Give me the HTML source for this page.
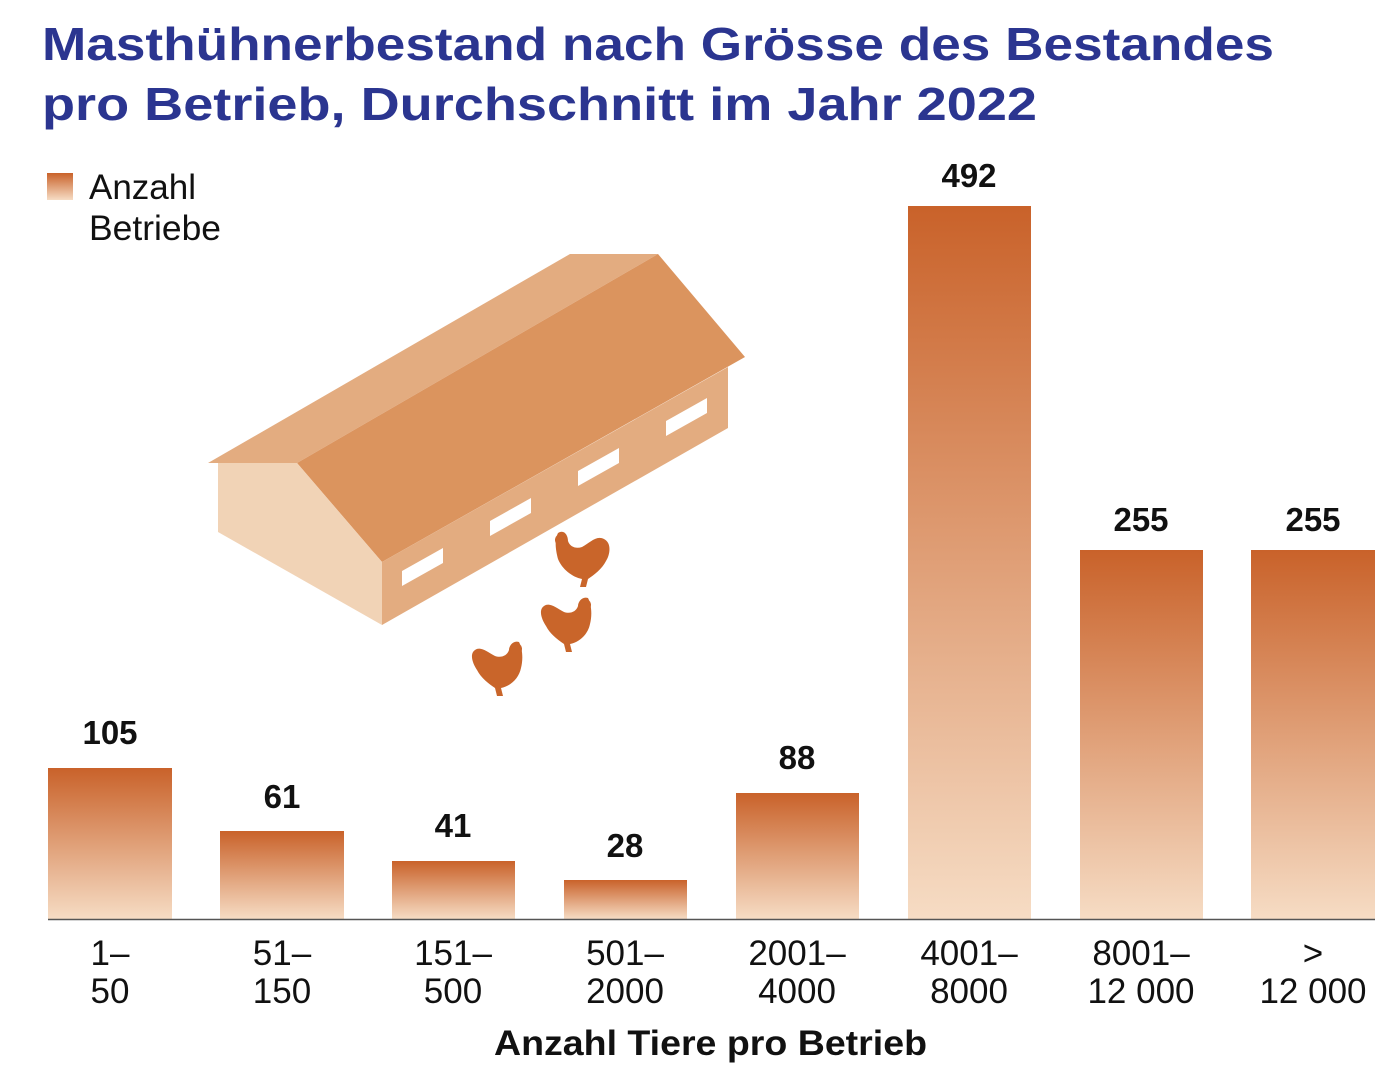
<!DOCTYPE html>
<html><head><meta charset="utf-8"><style>html,body{margin:0;padding:0;background:#fff}svg{display:block}</style></head>
<body>
<svg width="1400" height="1076" viewBox="0 0 1400 1076" xmlns="http://www.w3.org/2000/svg" font-family="Liberation Sans, DejaVu Sans, sans-serif">
<defs>
<linearGradient id="g" x1="0" y1="0" x2="0" y2="1">
<stop offset="0" stop-color="#c9622a"/><stop offset="1" stop-color="#f6dcc4"/>
</linearGradient>
</defs>
<text x="42" y="60" font-size="46" font-weight="bold" fill="#2b3590" textLength="1232" lengthAdjust="spacingAndGlyphs">Masthühnerbestand nach Grösse des Bestandes</text>
<text x="42" y="120" font-size="46" font-weight="bold" fill="#2b3590" textLength="995" lengthAdjust="spacingAndGlyphs">pro Betrieb, Durchschnitt im Jahr 2022</text>
<rect x="47" y="173" width="26" height="27" fill="url(#g)"/>
<text x="89" y="199" font-size="35" fill="#111">Anzahl</text>
<text x="89" y="240" font-size="35" fill="#111" textLength="132" lengthAdjust="spacingAndGlyphs">Betriebe</text>
<!-- barn -->
<polygon points="208,463 570,254 658,254 297,463" fill="#e3ac80"/>
<polygon points="297,463 658,254 745,357 382,562" fill="#db945e"/>
<polygon points="218,463 297,463 382,562 382,625 218,532" fill="#f1d3b6"/>
<polygon points="382,562 728,367 728,428 382,625" fill="#e3ac80"/>
<g fill="#fff">
<polygon points="402,571 443,548 443,563 402,586"/>
<polygon points="490,521 531,498 531,513 490,536"/>
<polygon points="578,471 619,448 619,463 578,486"/>
<polygon points="666,421 707,398 707,413 666,436"/>
</g>
<!-- chickens -->
<g fill="#c9652a">
<path d="M558,533 c6,-4 10,2 10,8 c2,6 8,8 14,6 c8,-4 14,-12 22,-8 c8,4 6,16 2,22 c-4,8 -12,14 -18,18 l-2,8 h-6 l2,-8 c-10,-2 -20,-10 -24,-20 c-2,-8 -4,-18 0,-26z"/>
<circle cx="561" cy="540" r="6"/>
<path d="M588,598 c-6,-2 -10,4 -10,8 c-2,6 -8,8 -14,6 c-8,-4 -14,-10 -20,-6 c-6,4 -2,14 2,20 c4,8 12,14 18,18 l2,8 h6 l-2,-8 c10,-2 18,-10 20,-20 c2,-8 2,-18 -2,-26z"/>
<circle cx="585" cy="605" r="6"/>
<path d="M519,642 c-6,-2 -10,4 -10,8 c-2,6 -8,8 -14,6 c-8,-4 -14,-10 -20,-6 c-6,4 -2,14 2,20 c4,8 12,14 18,18 l2,8 h6 l-2,-8 c10,-2 18,-10 20,-20 c2,-8 2,-18 -2,-26z"/>
<circle cx="516" cy="649" r="6"/>
</g>
<!-- bars -->
<g fill="url(#g)">
<rect x="48" y="768" width="124" height="151"/>
<rect x="220" y="831" width="124" height="88"/>
<rect x="392" y="861" width="123" height="58"/>
<rect x="564" y="880" width="123" height="39"/>
<rect x="736" y="793" width="123" height="126"/>
<rect x="908" y="206" width="123" height="713"/>
<rect x="1080" y="550" width="123" height="369"/>
<rect x="1251" y="550" width="124" height="369"/>
</g>
<line x1="48" y1="919.5" x2="1375" y2="919.5" stroke="#555" stroke-width="1.5"/>
<g font-size="33" font-weight="bold" fill="#111" text-anchor="middle">
<text x="110" y="744">105</text>
<text x="282" y="808">61</text>
<text x="453" y="837">41</text>
<text x="625" y="857">28</text>
<text x="797" y="769">88</text>
<text x="969" y="187">492</text>
<text x="1141" y="531">255</text>
<text x="1313" y="531">255</text>
</g>
<g font-size="35" fill="#111" text-anchor="middle">
<text x="110" y="965">1–</text><text x="110" y="1003">50</text>
<text x="282" y="965">51–</text><text x="282" y="1003">150</text>
<text x="453" y="965">151–</text><text x="453" y="1003">500</text>
<text x="625" y="965">501–</text><text x="625" y="1003">2000</text>
<text x="797" y="965">2001–</text><text x="797" y="1003">4000</text>
<text x="969" y="965">4001–</text><text x="969" y="1003">8000</text>
<text x="1141" y="965">8001–</text><text x="1141" y="1003">12 000</text>
<text x="1313" y="965">&gt;</text><text x="1313" y="1003">12 000</text>
</g>
<text x="494" y="1055" font-size="35" font-weight="bold" fill="#111" textLength="433" lengthAdjust="spacingAndGlyphs">Anzahl Tiere pro Betrieb</text>
</svg>
</body></html>
